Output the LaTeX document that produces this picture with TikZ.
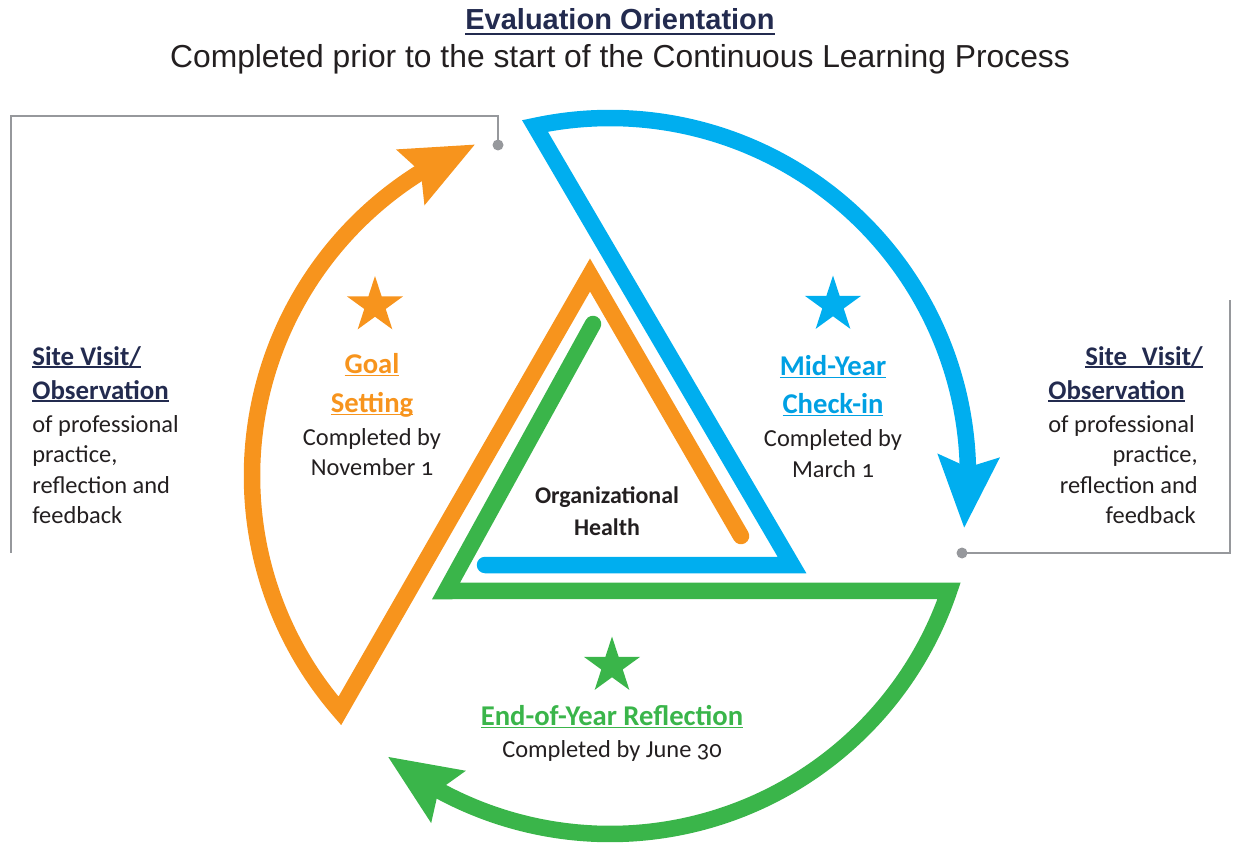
\documentclass[tikz,border=0pt]{standalone}
\usepackage{fontspec}
\setmainfont{Carlito}[Numbers=OldStyle]
\newfontfamily\arialfont{Liberation Sans}
\usetikzlibrary{arrows.meta,bending,calc,shapes.geometric}
\definecolor{cOrange}{RGB}{247,148,29}
\definecolor{cBlue}{RGB}{0,174,239}
\definecolor{cBlueText}{RGB}{0,160,227}
\definecolor{cGreen}{RGB}{58,181,74}
\definecolor{cNavy}{RGB}{35,43,79}
\definecolor{cText}{RGB}{35,31,32}
\definecolor{cGray}{RGB}{150,152,156}
\newcommand\ulword[1]{\setbox0\hbox{#1}\rlap{\rule[-0.11em]{\wd0}{0.055em}}\box0}
\newcommand\ultitle[1]{\setbox0\hbox{#1}\rlap{\rule[-0.18em]{\wd0}{0.09em}}\box0}
\begin{document}
\begin{tikzpicture}[x=0.02cm,y=-0.02cm,
  band/.style={line width=0.33cm, line join=miter, line cap=round,
    -{Stealth[length=1.42cm,width=1.18cm,inset=0.2cm,flex]}},
  gline/.style={draw=cGray, line width=0.058cm},
  txt/.style={font=\fontsize{13.9pt}{16pt}\selectfont, text=cText, inner sep=0},
  head/.style={font=\bfseries\fontsize{16.3pt}{18pt}\selectfont, inner sep=0},
  site/.style={font=\bfseries\fontsize{15.3pt}{17pt}\selectfont, text=cNavy, inner sep=0},
  org/.style={font=\bfseries\fontsize{13.6pt}{16pt}\selectfont, text=cText, inner sep=0},
  starmark/.style={star, star points=5, star point ratio=2.618, inner sep=0, minimum size=1.18cm}]
\useasboundingbox (0,0) rectangle (1233,844);

% title
\node[font=\arialfont\bfseries\fontsize{16.5pt}{18pt}\selectfont, text=cNavy, anchor=base, inner sep=0] (title) at (620,30) {\ultitle{Evaluation Orientation}};
\node[font=\arialfont\fontsize{18.1pt}{20pt}\selectfont, text=cText, anchor=base, inner sep=0] (subtitle) at (620,68) {Completed prior to the start of the Continuous Learning Process};

% geometry
\coordinate (C) at (610,476);
% blue
\coordinate (bS) at (485,565);
\coordinate (bR) at (792,565);
\coordinate (bT) at ($(C)+(257.9:358)$);
\draw[band, cBlue] (bS) -- (bR) -- (bT) arc[start angle=257.9, end angle=368.4, radius=358];
% orange
\coordinate (oS) at (741,536);
\coordinate (oA) at (590,275);
\coordinate (oV) at ($(C)+(139:358)$);
\draw[band, cOrange] (oS) -- (oA) -- (oV) arc[start angle=139, end angle=247.9, radius=358];
% green
\coordinate (gS) at (593,324);
\coordinate (gL) at (446,591);
\coordinate (gR) at ($(C)+(18.7:358)$);
\draw[band, cGreen] (gS) -- (gL) -- (gR) arc[start angle=18.7, end angle=128.4, radius=358];

% gray brackets
\coordinate (dL) at (498,145);
\coordinate (lc1) at (498,116);
\coordinate (lc2) at (11,116);
\coordinate (lEnd) at (11,553);
\draw[gline] (dL) -- (lc1) -- (lc2) -- (lEnd);
\fill[cGray] (dL) circle[radius=5.5];
\coordinate (dR) at (962,553);
\coordinate (rc1) at (1230,553);
\coordinate (rEnd) at (1230,300);
\draw[gline] (dR) -- (rc1) -- (rEnd);
\fill[cGray] (dR) circle[radius=5.5];

% stars
\node[starmark, fill=cOrange] (s1) at (375,305.5) {};
\node[starmark, fill=cBlue] (s2) at (833,305) {};
\node[starmark, fill=cGreen] (s3) at (612,666) {};

% Goal setting
\node[head, text=cOrange, anchor=base] (g1) at (372,373) {\ulword{Goal}};
\node[head, text=cOrange, anchor=base] (g2) at (372,412) {\ulword{Setting}};
\node[txt, anchor=base] (g3) at (372,445) {Completed by};
\node[txt, anchor=base] (g4) at (372,475) {November 1};

% Mid-year
\node[head, text=cBlueText, anchor=base] (m1) at (833,375) {\ulword{Mid-Year}};
\node[head, text=cBlueText, anchor=base] (m2) at (833,413) {\ulword{Check-in}};
\node[txt, anchor=base] (m3) at (833,446) {Completed by};
\node[txt, anchor=base] (m4) at (833,477) {March 1};

% center
\node[org, anchor=base] (o1) at (607,503) {Organizational};
\node[org, anchor=base] (o2) at (607,535) {Health};

% End of year
\node[head, text=cGreen, anchor=base] (e1) at (612,725) {\ulword{End-of-Year Reflection}};
\node[txt, anchor=base] (e2) at (612,757) {Completed by June 30};

% left site visit
\node[site, anchor=base west] (l1) at (32,365) {\ulword{Site Visit/}};
\node[site, anchor=base west] (l2) at (32,399) {\ulword{Observation}};
\node[txt, anchor=base west] (l3) at (32,432) {of professional};
\node[txt, anchor=base west] (l4) at (32,462) {practice,};
\node[txt, anchor=base west] (l5) at (32,493) {reflection and};
\node[txt, anchor=base west] (l6) at (32,523) {feedback};

% right site visit
\node[site, anchor=base east] (r1) at (1203,365) {\ulword{Site\hspace{0.55em}Visit/}};
\node[site, anchor=base west] (r2) at (1048,399) {\ulword{Observation}};
\node[txt, anchor=base west] (r3) at (1048,432) {of professional};
\node[txt, anchor=base east] (r4) at (1198,462) {practice,};
\node[txt, anchor=base east] (r5) at (1198,493) {reflection and};
\node[txt, anchor=base east] (r6) at (1196,523) {feedback};
\end{tikzpicture}
\end{document}
